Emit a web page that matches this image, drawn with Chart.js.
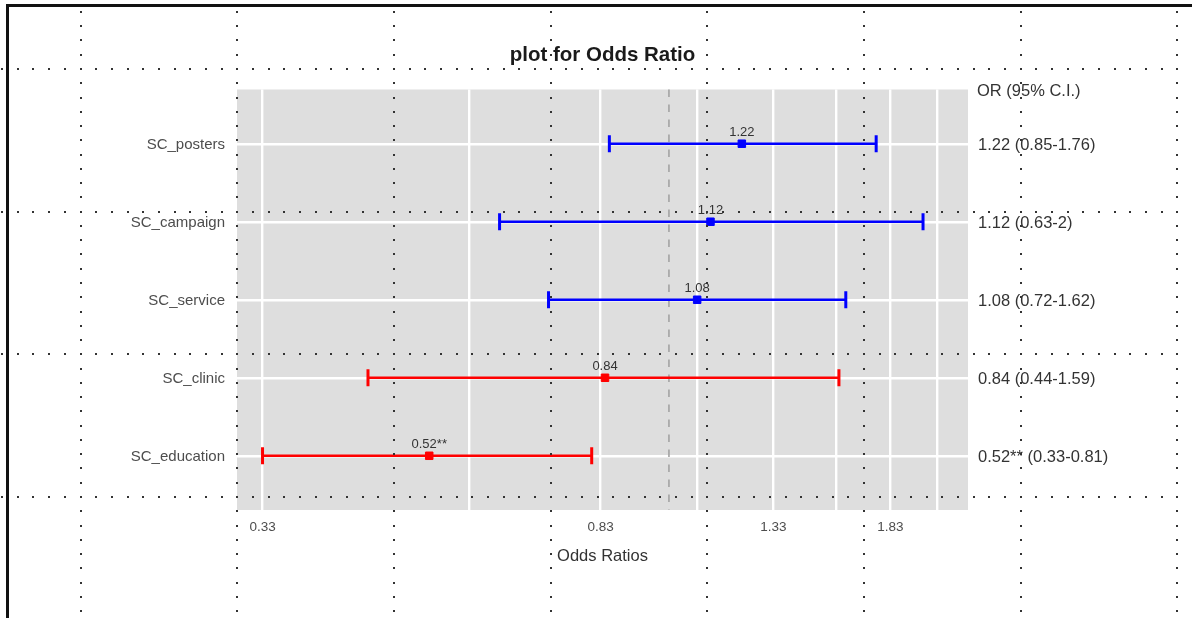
<!DOCTYPE html>
<html>
<head>
<meta charset="utf-8">
<script src="https://cdn.jsdelivr.net/npm/chart.js@4/dist/chart.umd.min.js"></script>
<style>
  html, body { margin: 0; padding: 0; background: #ffffff; }
  #wrap { width: 1192px; height: 618px; }
</style>
</head>
<body>
<div id="wrap"><canvas id="orChart" width="1192" height="618"></canvas></div>
<script>
// Predictors, top to bottom
const categories = ['SC_posters', 'SC_campaign', 'SC_service', 'SC_clinic', 'SC_education'];
// Odds ratios with 95% confidence limits
const oddsRatios = [1.22, 1.12, 1.08, 0.84, 0.52];
const ciLower = [0.85, 0.63, 0.72, 0.44, 0.33];
const ciUpper = [1.76, 2, 1.62, 1.59, 0.81];
const significance = ['', '', '', '', '**'];
// x-axis breaks: labelled ones and the in-between grid lines
const xMajorTicks = [0.33, 0.83, 1.33, 1.83];
const xMinorTicks = [0.58, 1.08, 1.58, 2.08];

const FONT = "'Liberation Sans', Arial, sans-serif";
const colorFor = v => (v >= 1 ? '#0000ff' : '#ff0000');

// confidence interval segments with end caps
const ciDatasets = categories.map((name, i) => ({
  label: name,
  showLine: true,
  data: [{ x: ciLower[i], y: i + 1 }, { x: ciUpper[i], y: i + 1 }],
  borderColor: colorFor(oddsRatios[i]),
  borderWidth: 2.6,
  pointStyle: 'line',
  rotation: 90,
  pointRadius: 8.5,
  pointHoverRadius: 8.5,
  pointBorderWidth: 3,
  pointBorderColor: colorFor(oddsRatios[i]),
  pointBackgroundColor: colorFor(oddsRatios[i])
}));

// point estimates
const orDataset = {
  label: 'OR',
  data: oddsRatios.map((v, i) => ({ x: v, y: i + 1 })),
  pointStyle: 'rect',
  pointRadius: 5.3,
  pointHoverRadius: 5.3,
  pointBorderWidth: 1,
  pointBackgroundColor: oddsRatios.map(colorFor),
  pointBorderColor: oddsRatios.map(colorFor)
};

const decor = {
  id: 'decor',
  beforeDraw(chart) {
    const { ctx, chartArea: a } = chart;
    ctx.save();
    ctx.fillStyle = '#ffffff';
    ctx.fillRect(0, 0, chart.width, chart.height);
    ctx.fillStyle = '#dedede';
    ctx.fillRect(a.left, a.top, a.right - a.left, a.bottom - a.top);
    ctx.restore();
  },
  beforeDatasetsDraw(chart) {
    const { ctx, chartArea: a, scales } = chart;
    const x1 = scales.x.getPixelForValue(1);
    ctx.save();
    ctx.strokeStyle = '#a3a3a3';
    ctx.lineWidth = 1.6;
    ctx.setLineDash([7.5, 7.5]);
    ctx.beginPath();
    ctx.moveTo(x1, a.top);
    ctx.lineTo(x1, a.bottom);
    ctx.stroke();
    ctx.restore();
  },
  afterDatasetsDraw(chart) {
    const { ctx, scales } = chart;
    ctx.save();
    ctx.fillStyle = '#333333';
    ctx.font = '13px ' + FONT;
    ctx.textAlign = 'center';
    ctx.textBaseline = 'middle';
    oddsRatios.forEach((v, i) => {
      const px = scales.x.getPixelForValue(v);
      const py = scales.y.getPixelForValue(i + 1);
      ctx.fillText(String(v) + significance[i], px, py - 11.5);
    });
    ctx.restore();
  },
  afterDraw(chart) {
    const { ctx, chartArea: a, scales } = chart;
    ctx.save();
    // title
    ctx.fillStyle = '#1a1a1a';
    ctx.font = 'bold 20.5px ' + FONT;
    ctx.textAlign = 'center';
    ctx.textBaseline = 'middle';
    ctx.fillText('plot for Odds Ratio', (a.left + a.right) / 2, 55);
    // OR column
    ctx.fillStyle = '#333333';
    ctx.font = '16.5px ' + FONT;
    ctx.textAlign = 'left';
    const colX = a.right + 10;
    ctx.fillText('OR (95% C.I.)', colX - 1, 91);
    oddsRatios.forEach((v, i) => {
      const py = scales.y.getPixelForValue(i + 1);
      ctx.fillText(String(v) + significance[i] + ' (' + ciLower[i] + '-' + ciUpper[i] + ')', colX, py + 1.5);
    });
    // dotted layout guides
    ctx.fillStyle = '#333333';
    const gx0 = 80.5, gdx = 156.7, gy0 = 69, gdy = 142.67;
    const dotStepX = gdx / 10, dotStepY = gdy / 10;
    for (let gx = gx0; gx < chart.width; gx += gdx) {
      for (let k = -10; k < 60; k++) {
        const y = gy0 + k * dotStepY;
        if (y < 10 || y > chart.height) continue;
        ctx.fillRect(Math.round(gx) - 1, Math.round(y) - 1, 2, 2);
      }
    }
    for (let gy = gy0; gy < chart.height; gy += gdy) {
      for (let k = -10; k < 90; k++) {
        const x = gx0 + k * dotStepX;
        if (x < 1 || x > 1180) continue;
        ctx.fillRect(Math.round(x) - 1, Math.round(gy) - 1, 2, 2);
      }
    }
    // frame
    ctx.fillStyle = '#111111';
    ctx.fillRect(6, 4, chart.width - 6, 3);
    ctx.fillRect(6, 4, 3, chart.height - 4);
    ctx.restore();
  }
};

new Chart(document.getElementById('orChart'), {
  type: 'scatter',
  data: { datasets: [orDataset, ...ciDatasets] },
  options: {
    responsive: false,
    animation: false,
    devicePixelRatio: 1,
    layout: { padding: { top: 89.5, right: 224, bottom: 0, left: 0 } },
    plugins: {
      legend: { display: false },
      tooltip: { enabled: false },
      title: { display: false }
    },
    scales: {
      x: {
        type: 'logarithmic',
        position: 'bottom',
        min: 0.3078,
        max: 2.261,
        bounds: 'data',
        afterBuildTicks(scale) {
          scale.ticks = [...xMajorTicks, ...xMinorTicks].sort((p, q) => p - q).map(v => ({ value: v }));
        },
        afterFit(scale) { scale.height = 108; },
        grid: { color: '#ffffff', lineWidth: 2.4, drawTicks: false },
        border: { display: false },
        ticks: {
          autoSkip: false,
          maxRotation: 0,
          padding: 9,
          color: '#4d4d4d',
          font: { family: FONT, size: 13.5 },
          callback: v => (xMajorTicks.includes(v) ? v.toFixed(2) : '')
        },
        title: {
          display: true,
          text: 'Odds Ratios',
          color: '#333333',
          font: { family: FONT, size: 16.5 },
          padding: { top: 0, bottom: 52 }
        }
      },
      y: {
        type: 'linear',
        reverse: true,
        min: 0.305,
        max: 5.695,
        afterBuildTicks(scale) {
          scale.ticks = categories.map((_, i) => ({ value: i + 1 }));
        },
        afterFit(scale) { scale.width = 237; },
        grid: { color: '#ffffff', lineWidth: 2.4, drawTicks: false },
        border: { display: false },
        ticks: {
          padding: 12,
          labelOffset: 1.5,
          color: '#4d4d4d',
          font: { family: FONT, size: 15 },
          callback: v => categories[v - 1] || ''
        }
      }
    }
  },
  plugins: [decor]
});
</script>
</body>
</html>
